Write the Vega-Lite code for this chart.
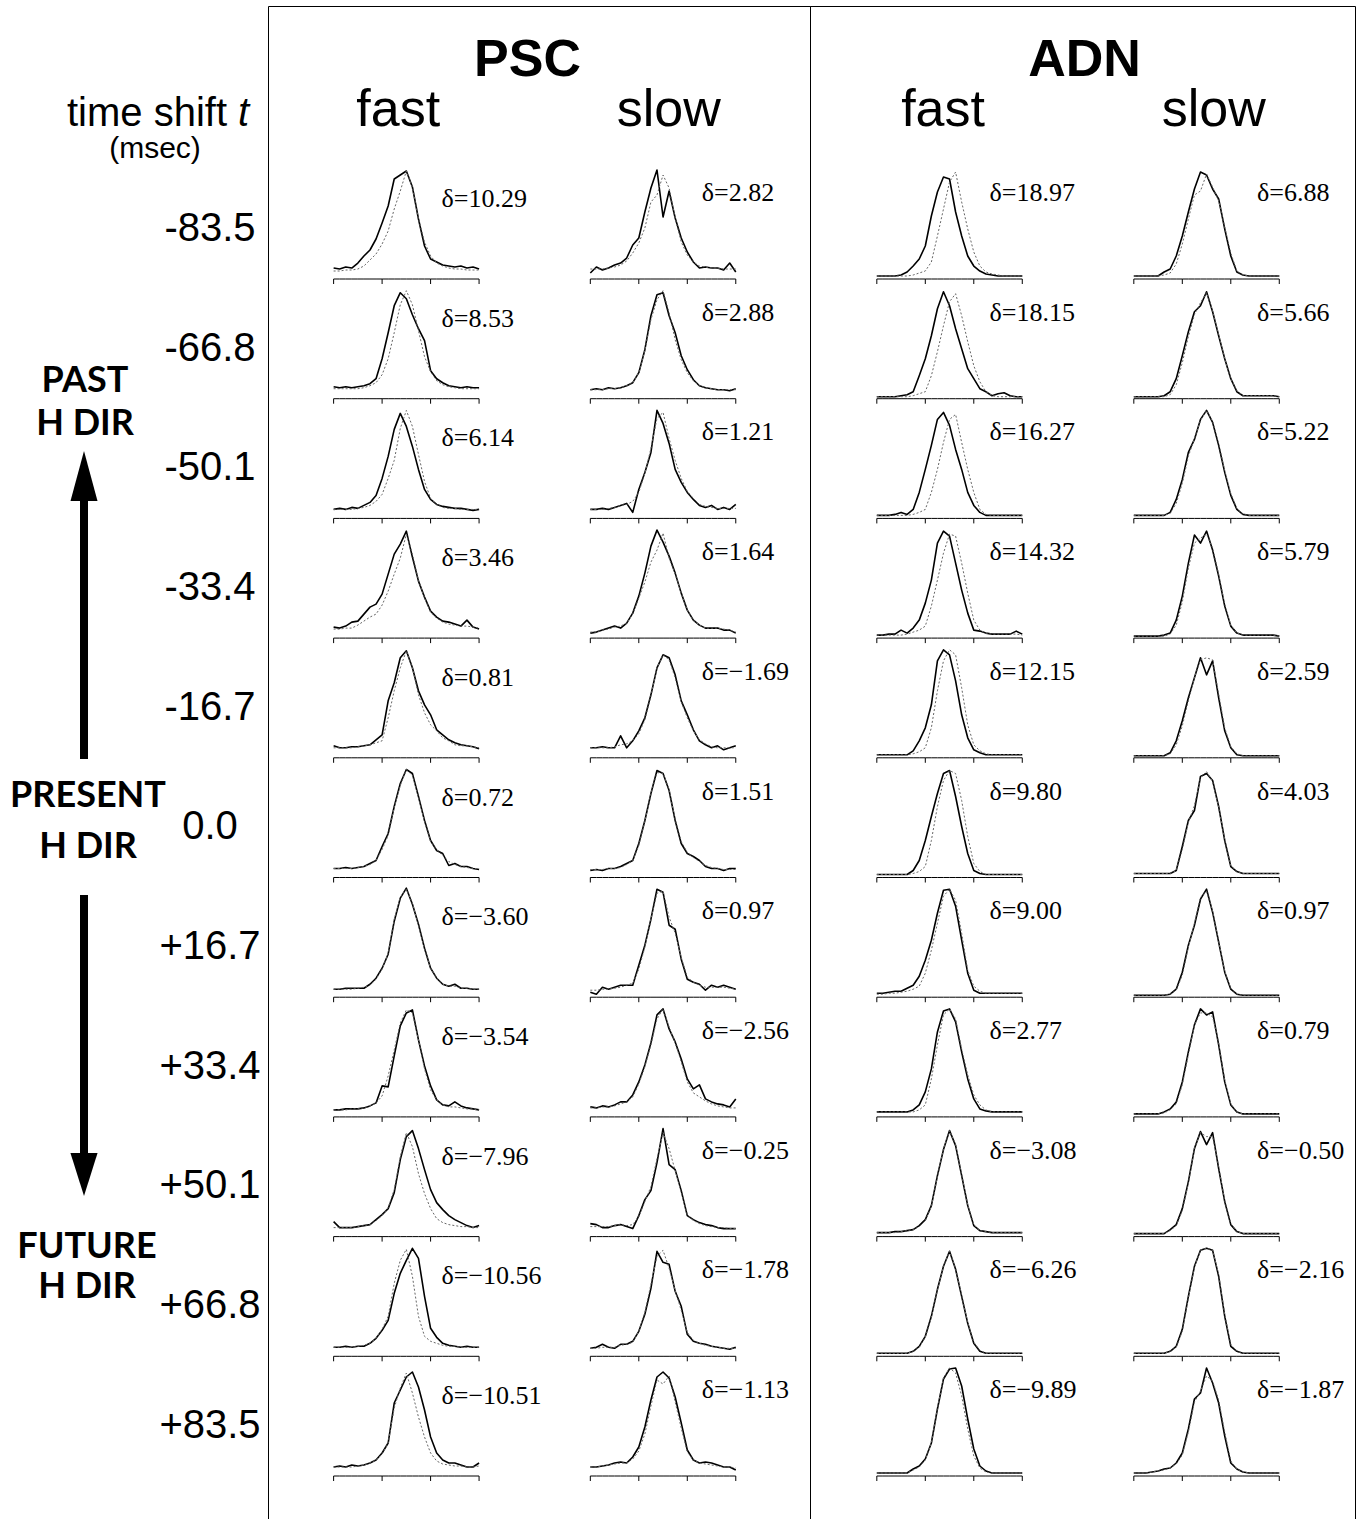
{
"$schema":"https://vega.github.io/schema/vega-lite/v6.json",
"background":"white",
"padding":{"left":0,"top":5,"right":5,"bottom":0},
"spacing":0,
"bounds":"flush",
"config":{"view":{"stroke":null},"font":"Liberation Sans"},
"datasets":{"curves":[
{"b":"PSC","sp":"fast","t":"-83.5","d":"δ=10.29","a":[-180,-165,-150,-135,-120,-105,-90,-75,-60,-45,-30,-15,0,15,30,45,60,75,90,105,120,135,150,165,180],"s":[11,10,12,11,16,23,29,40,56,73,100,104,108,92,60,33,20,17,14,13,12,13,11,12,10],"w":[8,8,9,9,10,13,19,25,35,48,70,88,108,92,60,37,23,16,13,11,10,10,9,9,9]},
{"b":"PSC","sp":"fast","t":"-66.8","d":"δ=8.53","a":[-180,-165,-150,-135,-120,-105,-90,-75,-60,-45,-30,-15,0,15,30,45,60,75,90,105,120,135,150,165,180],"s":[12,11,12,11,12,13,15,20,40,66,93,106,100,84,70,58,28,20,16,13,12,11,12,11,11],"w":[10,10,10,10,10,11,13,16,24,40,66,94,108,94,68,42,27,18,14,12,11,10,10,10,10]},
{"b":"PSC","sp":"fast","t":"-50.1","d":"δ=6.14","a":[-180,-165,-150,-135,-120,-105,-90,-75,-60,-45,-30,-15,0,15,30,45,60,75,90,105,120,135,150,165,180],"s":[9,10,9,11,10,13,16,23,40,62,89,105,92,72,49,29,19,14,12,11,10,10,9,8,9],"w":[9,9,9,9,10,11,13,17,24,40,58,90,108,92,64,37,20,14,11,10,10,9,9,9,9]},
{"b":"PSC","sp":"fast","t":"-33.4","d":"δ=3.46","a":[-180,-165,-150,-135,-120,-105,-90,-75,-60,-45,-30,-15,0,15,30,45,60,75,90,105,120,135,150,165,180],"s":[11,10,12,16,17,24,31,34,44,64,84,94,107,81,57,41,27,21,17,16,14,12,18,11,9],"w":[9,9,10,10,13,17,21,24,33,47,64,80,104,84,58,40,26,20,16,14,13,12,12,11,10]},
{"b":"PSC","sp":"fast","t":"-16.7","d":"δ=0.81","a":[-180,-165,-150,-135,-120,-105,-90,-75,-60,-45,-30,-15,0,15,30,45,60,75,90,105,120,135,150,165,180],"s":[12,10,10,11,11,12,13,18,23,57,75,100,107,90,67,53,43,28,23,18,15,13,12,11,9],"w":[10,10,10,10,11,12,13,15,17,40,67,90,107,90,63,45,33,27,20,17,13,12,12,11,10]},
{"b":"PSC","sp":"fast","t":"0.0","d":"δ=0.72","a":[-180,-165,-150,-135,-120,-105,-90,-75,-60,-45,-30,-15,0,15,30,45,60,75,90,105,120,135,150,165,180],"s":[9,9,10,9,10,11,14,17,31,44,71,94,108,104,81,57,37,27,24,12,14,11,11,9,8],"w":[9,9,9,9,10,11,13,17,28,42,70,92,108,102,80,56,36,28,22,16,13,11,10,9,9]},
{"b":"PSC","sp":"fast","t":"+16.7","d":"δ=−3.60","a":[-180,-165,-150,-135,-120,-105,-90,-75,-60,-45,-30,-15,0,15,30,45,60,75,90,105,120,135,150,165,180],"s":[8,8,9,9,9,9,13,19,29,43,76,99,109,93,73,49,29,19,13,11,13,9,9,8,8],"w":[8,8,8,8,9,10,12,18,28,44,78,100,108,94,72,48,29,19,13,11,11,9,9,8,8]},
{"b":"PSC","sp":"fast","t":"+33.4","d":"δ=−3.54","a":[-180,-165,-150,-135,-120,-105,-90,-75,-60,-45,-30,-15,0,15,30,45,60,75,90,105,120,135,150,165,180],"s":[7,7,8,8,8,9,11,14,31,30,61,91,104,107,77,51,31,17,12,11,15,11,9,8,7],"w":[7,7,7,8,8,9,11,14,21,41,67,94,107,104,77,48,27,17,12,10,10,9,8,8,7]},
{"b":"PSC","sp":"fast","t":"+50.1","d":"δ=−7.96","a":[-180,-165,-150,-135,-120,-105,-90,-75,-60,-45,-30,-15,0,15,30,45,60,75,90,105,120,135,150,165,180],"s":[15,9,9,9,10,11,12,17,22,28,44,77,100,106,88,67,47,34,27,21,17,14,11,9,11],"w":[9,9,9,9,10,11,12,16,21,29,47,80,104,90,63,43,28,18,14,12,11,10,10,9,9]},
{"b":"PSC","sp":"fast","t":"+66.8","d":"δ=−10.56","a":[-180,-165,-150,-135,-120,-105,-90,-75,-60,-45,-30,-15,0,15,30,45,60,75,90,105,120,135,150,165,180],"s":[9,9,10,9,10,10,13,18,26,36,63,83,96,108,98,60,28,19,13,11,10,9,10,9,9],"w":[9,9,9,9,10,11,13,18,27,40,73,96,107,80,40,20,15,13,11,10,10,9,9,9,9]},
{"b":"PSC","sp":"fast","t":"+83.5","d":"δ=−10.51","a":[-180,-165,-150,-135,-120,-105,-90,-75,-60,-45,-30,-15,0,15,30,45,60,75,90,105,120,135,150,165,180],"s":[9,10,9,11,10,11,13,16,23,33,73,86,99,104,89,66,39,23,16,13,13,11,9,9,13],"w":[9,9,9,9,10,11,13,16,22,33,68,88,103,83,59,39,23,15,12,11,10,10,9,9,10]},
{"b":"PSC","sp":"slow","t":"-83.5","d":"δ=2.82","a":[-180,-165,-150,-135,-120,-105,-90,-75,-60,-45,-30,-15,0,15,30,45,60,75,90,105,120,135,150,165,180],"s":[6,12,9,11,14,16,21,34,41,67,91,109,62,88,61,41,27,17,11,12,11,11,9,16,7],"w":[10,10,10,11,12,14,18,26,36,51,77,84,104,91,61,37,24,17,13,12,11,11,10,10,10]},
{"b":"PSC","sp":"slow","t":"-66.8","d":"δ=2.88","a":[-180,-165,-150,-135,-120,-105,-90,-75,-60,-45,-30,-15,0,15,30,45,60,75,90,105,120,135,150,165,180],"s":[9,10,9,11,10,11,13,16,26,49,83,104,106,83,66,43,29,19,13,11,10,9,9,8,10],"w":[9,9,9,10,10,11,13,16,26,48,79,99,108,86,59,39,26,18,13,11,10,9,9,9,9]},
{"b":"PSC","sp":"slow","t":"-50.1","d":"δ=1.21","a":[-180,-165,-150,-135,-120,-105,-90,-75,-60,-45,-30,-15,0,15,30,45,60,75,90,105,120,135,150,165,180],"s":[9,9,10,9,11,13,15,6,29,46,66,108,95,75,49,36,26,19,13,11,13,9,11,9,14],"w":[9,9,9,10,11,13,14,17,26,45,70,100,106,80,58,40,27,20,14,12,11,10,10,10,10]},
{"b":"PSC","sp":"slow","t":"-33.4","d":"δ=1.64","a":[-180,-165,-150,-135,-120,-105,-90,-75,-60,-45,-30,-15,0,15,30,45,60,75,90,105,120,135,150,165,180],"s":[5,6,8,10,12,10,15,25,42,65,92,108,96,82,65,45,28,18,13,10,10,10,8,8,5],"w":[6,6,8,9,11,12,15,24,40,56,76,88,105,80,64,45,28,18,13,10,10,10,9,8,6]},
{"b":"PSC","sp":"slow","t":"-16.7","d":"δ=−1.69","a":[-180,-165,-150,-135,-120,-105,-90,-75,-60,-45,-30,-15,0,15,30,45,60,75,90,105,120,135,150,165,180],"s":[10,10,11,10,10,22,10,17,27,40,63,90,103,100,83,57,43,28,17,13,10,12,8,10,12],"w":[10,10,10,10,11,13,14,17,24,38,62,90,103,98,80,56,40,27,18,14,11,10,10,10,10]},
{"b":"PSC","sp":"slow","t":"0.0","d":"δ=1.51","a":[-180,-165,-150,-135,-120,-105,-90,-75,-60,-45,-30,-15,0,15,30,45,60,75,90,105,120,135,150,165,180],"s":[7,8,7,9,9,11,14,17,34,57,84,107,104,87,57,34,24,21,17,11,9,9,7,9,9],"w":[8,8,8,9,9,10,13,17,32,56,84,105,104,88,58,36,25,20,16,12,10,9,8,8,8]},
{"b":"PSC","sp":"slow","t":"+16.7","d":"δ=0.97","a":[-180,-165,-150,-135,-120,-105,-90,-75,-60,-45,-30,-15,0,15,30,45,60,75,90,105,120,135,150,165,180],"s":[5,3,10,8,10,12,12,12,32,52,78,108,105,72,68,38,18,15,13,7,12,10,12,10,8],"w":[7,7,8,8,9,10,12,14,28,50,78,104,106,80,64,40,20,15,12,10,10,10,10,9,8]},
{"b":"PSC","sp":"slow","t":"+33.4","d":"δ=−2.56","a":[-180,-165,-150,-135,-120,-105,-90,-75,-60,-45,-30,-15,0,15,30,45,60,75,90,105,120,135,150,165,180],"s":[10,9,11,10,12,15,15,22,35,52,74,102,108,88,75,58,38,28,32,18,15,13,12,10,18],"w":[9,9,10,10,11,13,15,20,33,50,72,98,108,90,74,55,35,24,20,16,13,11,10,9,9]},
{"b":"PSC","sp":"slow","t":"+50.1","d":"δ=−0.25","a":[-180,-165,-150,-135,-120,-105,-90,-75,-60,-45,-30,-15,0,15,30,45,60,75,90,105,120,135,150,165,180],"s":[13,12,9,9,11,12,10,8,21,37,46,74,108,72,67,46,21,17,14,12,11,9,8,8,8],"w":[10,10,10,10,11,12,11,12,20,35,50,78,104,88,66,44,22,16,13,11,10,9,9,8,8]},
{"b":"PSC","sp":"slow","t":"+66.8","d":"δ=−1.78","a":[-180,-165,-150,-135,-120,-105,-90,-75,-60,-45,-30,-15,0,15,30,45,60,75,90,105,120,135,150,165,180],"s":[8,9,12,9,8,12,12,15,25,42,68,105,94,92,65,50,22,15,13,12,10,9,8,7,9],"w":[8,8,9,9,9,11,12,14,25,44,72,100,106,88,66,46,24,16,13,11,10,9,8,8,8]},
{"b":"PSC","sp":"slow","t":"+83.5","d":"δ=−1.13","a":[-180,-165,-150,-135,-120,-105,-90,-75,-60,-45,-30,-15,0,15,30,45,60,75,90,105,120,135,150,165,180],"s":[9,9,10,11,13,14,13,19,29,49,76,99,104,98,79,53,26,16,13,14,13,11,9,9,6],"w":[9,9,10,11,12,13,13,17,25,42,70,96,92,100,74,48,24,16,13,12,11,10,9,9,8]},
{"b":"ADN","sp":"fast","t":"-83.5","d":"δ=18.97","a":[-180,-165,-150,-135,-120,-105,-90,-75,-60,-45,-30,-15,0,15,30,45,60,75,90,105,120,135,150,165,180],"s":[3,3,3,3,4,7,13,20,33,63,87,102,100,67,43,23,13,8,5,4,3,3,3,3,3],"w":[3,3,3,3,3,3,4,6,8,17,43,70,97,107,77,50,27,13,7,5,4,3,3,3,3]},
{"b":"ADN","sp":"fast","t":"-66.8","d":"δ=18.15","a":[-180,-165,-150,-135,-120,-105,-90,-75,-60,-45,-30,-15,0,15,30,45,60,75,90,105,120,135,150,165,180],"s":[2,2,2,2,3,4,7,23,40,63,90,107,93,70,50,30,20,10,7,3,5,6,3,2,2],"w":[2,2,2,2,2,2,3,5,7,23,47,73,97,105,83,57,33,17,7,3,2,2,2,2,2]},
{"b":"ADN","sp":"fast","t":"-50.1","d":"δ=16.27","a":[-180,-165,-150,-135,-120,-105,-90,-75,-60,-45,-30,-15,0,15,30,45,60,75,90,105,120,135,150,165,180],"s":[3,3,3,4,6,4,9,26,49,73,99,106,93,69,49,26,13,6,3,3,3,3,3,3,3],"w":[3,3,3,3,3,3,4,6,9,26,49,76,99,104,76,49,26,9,4,3,3,3,3,3,3]},
{"b":"ADN","sp":"fast","t":"-33.4","d":"δ=14.32","a":[-180,-165,-150,-135,-120,-105,-90,-75,-60,-45,-30,-15,0,15,30,45,60,75,90,105,120,135,150,165,180],"s":[3,3,4,4,8,5,10,18,35,58,95,107,102,75,48,25,8,7,5,4,4,4,4,7,4],"w":[3,3,3,3,3,4,6,8,12,32,58,85,104,102,75,45,18,8,5,4,4,4,4,4,3]},
{"b":"ADN","sp":"fast","t":"-16.7","d":"δ=12.15","a":[-180,-165,-150,-135,-120,-105,-90,-75,-60,-45,-30,-15,0,15,30,45,60,75,90,105,120,135,150,165,180],"s":[3,3,3,3,3,3,7,17,30,53,97,108,103,77,43,20,8,5,3,3,3,3,3,3,3],"w":[3,3,3,3,3,3,4,6,10,30,67,97,108,103,70,33,13,7,4,3,3,3,3,3,3]},
{"b":"ADN","sp":"fast","t":"0.0","d":"δ=9.80","a":[-180,-165,-150,-135,-120,-105,-90,-75,-60,-45,-30,-15,0,15,30,45,60,75,90,105,120,135,150,165,180],"s":[3,3,3,3,3,3,7,17,37,61,84,104,107,81,51,24,7,4,3,3,3,3,3,3,3],"w":[3,3,3,3,3,3,4,6,11,37,71,97,107,104,77,41,14,6,3,3,3,3,3,3,3]},
{"b":"ADN","sp":"fast","t":"+16.7","d":"δ=9.00","a":[-180,-165,-150,-135,-120,-105,-90,-75,-60,-45,-30,-15,0,15,30,45,60,75,90,105,120,135,150,165,180],"s":[4,4,5,6,6,9,12,21,37,57,84,107,108,91,57,24,7,4,4,4,4,4,4,4,4],"w":[3,3,4,4,5,6,8,11,24,47,74,101,108,97,64,27,11,6,4,4,4,4,4,4,4]},
{"b":"ADN","sp":"fast","t":"+33.4","d":"δ=2.77","a":[-180,-165,-150,-135,-120,-105,-90,-75,-60,-45,-30,-15,0,15,30,45,60,75,90,105,120,135,150,165,180],"s":[5,5,5,5,5,5,7,12,25,48,85,106,108,95,65,38,18,8,6,5,5,5,5,5,5],"w":[5,5,5,5,5,5,5,7,12,38,72,102,108,98,68,42,22,12,7,5,5,5,5,5,5]},
{"b":"ADN","sp":"fast","t":"+50.1","d":"δ=−3.08","a":[-180,-165,-150,-135,-120,-105,-90,-75,-60,-45,-30,-15,0,15,30,45,60,75,90,105,120,135,150,165,180],"s":[4,4,4,5,5,6,7,11,17,31,61,87,106,91,61,31,11,6,5,4,4,4,4,4,4],"w":[4,4,4,4,5,6,7,10,16,30,60,88,106,92,62,32,12,6,5,4,4,4,4,4,4]},
{"b":"ADN","sp":"fast","t":"+66.8","d":"δ=−6.26","a":[-180,-165,-150,-135,-120,-105,-90,-75,-60,-45,-30,-15,0,15,30,45,60,75,90,105,120,135,150,165,180],"s":[3,3,3,3,3,3,5,10,20,40,67,90,105,87,60,33,13,5,3,3,3,3,3,3,3],"w":[3,3,3,3,3,3,5,9,19,39,66,90,105,88,61,34,14,6,3,3,3,3,3,3,3]},
{"b":"ADN","sp":"fast","t":"+83.5","d":"δ=−9.89","a":[-180,-165,-150,-135,-120,-105,-90,-75,-60,-45,-30,-15,0,15,30,45,60,75,90,105,120,135,150,165,180],"s":[3,3,3,3,3,3,7,10,17,33,67,97,107,108,90,57,27,10,5,3,3,3,3,3,3],"w":[3,3,3,3,3,3,6,9,16,33,68,98,108,103,80,47,20,8,4,3,3,3,3,3,3]},
{"b":"ADN","sp":"slow","t":"-83.5","d":"δ=6.88","a":[-180,-165,-150,-135,-120,-105,-90,-75,-60,-45,-30,-15,0,15,30,45,60,75,90,105,120,135,150,165,180],"s":[3,3,3,3,3,7,10,23,43,67,90,107,104,90,80,50,23,7,4,3,3,3,3,3,3],"w":[3,3,3,3,3,4,6,15,35,60,84,88,105,92,78,52,26,8,4,3,3,3,3,3,3]},
{"b":"ADN","sp":"slow","t":"-66.8","d":"δ=5.66","a":[-180,-165,-150,-135,-120,-105,-90,-75,-60,-45,-30,-15,0,15,30,45,60,75,90,105,120,135,150,165,180],"s":[2,2,2,2,2,3,7,20,43,67,87,93,107,87,63,40,20,7,3,3,3,3,3,3,2],"w":[2,2,2,2,2,2,4,14,36,62,84,96,106,88,64,40,20,8,3,3,3,3,3,3,2]},
{"b":"ADN","sp":"slow","t":"-50.1","d":"δ=5.22","a":[-180,-165,-150,-135,-120,-105,-90,-75,-60,-45,-30,-15,0,15,30,45,60,75,90,105,120,135,150,165,180],"s":[3,3,3,3,3,3,6,19,39,66,79,99,108,96,73,46,23,9,4,3,3,3,3,3,3],"w":[3,3,3,3,3,3,5,15,35,62,80,98,108,97,75,48,25,10,4,3,3,3,3,3,3]},
{"b":"ADN","sp":"slow","t":"-33.4","d":"δ=5.79","a":[-180,-165,-150,-135,-120,-105,-90,-75,-60,-45,-30,-15,0,15,30,45,60,75,90,105,120,135,150,165,180],"s":[2,2,2,2,2,3,5,18,42,75,103,95,107,88,62,32,12,5,3,3,3,3,3,3,2],"w":[2,2,2,2,2,2,4,13,36,70,95,100,104,90,64,34,13,5,3,3,3,3,3,3,2]},
{"b":"ADN","sp":"slow","t":"-16.7","d":"δ=2.59","a":[-180,-165,-150,-135,-120,-105,-90,-75,-60,-45,-30,-15,0,15,30,45,60,75,90,105,120,135,150,165,180],"s":[2,2,2,2,2,2,5,17,37,60,80,100,83,97,60,27,10,3,2,2,2,2,2,2,2],"w":[2,2,2,2,2,2,4,13,32,57,80,98,100,98,64,30,11,4,2,2,2,2,2,2,2]},
{"b":"ADN","sp":"slow","t":"0.0","d":"δ=4.03","a":[-180,-165,-150,-135,-120,-105,-90,-75,-60,-45,-30,-15,0,15,30,45,60,75,90,105,120,135,150,165,180],"s":[4,4,4,4,4,4,4,7,31,57,67,101,104,97,71,37,11,6,4,4,4,4,4,4,4],"w":[4,4,4,4,4,4,4,7,28,55,72,100,106,96,70,38,12,6,4,4,4,4,4,4,4]},
{"b":"ADN","sp":"slow","t":"+16.7","d":"δ=0.97","a":[-180,-165,-150,-135,-120,-105,-90,-75,-60,-45,-30,-15,0,15,30,45,60,75,90,105,120,135,150,165,180],"s":[2,2,2,2,2,2,3,8,25,52,72,98,108,85,55,25,8,3,2,2,2,2,2,2,2],"w":[2,2,2,2,2,2,3,7,22,50,74,100,106,86,56,26,9,3,2,2,2,2,2,2,2]},
{"b":"ADN","sp":"slow","t":"+33.4","d":"δ=0.79","a":[-180,-165,-150,-135,-120,-105,-90,-75,-60,-45,-30,-15,0,15,30,45,60,75,90,105,120,135,150,165,180],"s":[3,3,3,3,3,5,8,15,35,65,92,108,102,105,72,35,12,5,3,3,3,3,3,3,3],"w":[3,3,3,3,3,4,7,13,32,62,92,104,104,100,74,37,13,5,3,3,3,3,3,3,3]},
{"b":"ADN","sp":"slow","t":"+50.1","d":"δ=−0.50","a":[-180,-165,-150,-135,-120,-105,-90,-75,-60,-45,-30,-15,0,15,30,45,60,75,90,105,120,135,150,165,180],"s":[3,3,3,3,3,3,7,12,28,55,88,105,92,104,68,35,12,5,3,3,3,3,3,3,3],"w":[3,3,3,3,3,3,6,11,26,53,88,104,100,100,70,36,13,5,3,3,3,3,3,3,3]},
{"b":"ADN","sp":"slow","t":"+66.8","d":"δ=−2.16","a":[-180,-165,-150,-135,-120,-105,-90,-75,-60,-45,-30,-15,0,15,30,45,60,75,90,105,120,135,150,165,180],"s":[3,3,3,3,3,3,5,10,27,60,90,106,108,106,80,40,10,5,3,3,3,3,3,3,3],"w":[3,3,3,3,3,3,5,9,25,58,89,106,108,106,82,42,12,5,3,3,3,3,3,3,3]},
{"b":"ADN","sp":"slow","t":"+83.5","d":"δ=−1.87","a":[-180,-165,-150,-135,-120,-105,-90,-75,-60,-45,-30,-15,0,15,30,45,60,75,90,105,120,135,150,165,180],"s":[3,3,3,4,5,7,8,13,23,47,77,83,108,93,73,40,13,7,4,3,3,3,3,3,3],"w":[3,3,3,4,5,6,8,12,21,44,74,85,100,95,76,44,15,7,4,3,3,3,3,3,3]}
]},
"hconcat":[
{
"width":268,"height":1516,
"layer":[
{"data":{"values":[{"tv":-83.5,"lab":"-83.5"},{"tv":-66.8,"lab":"-66.8"},{"tv":-50.1,"lab":"-50.1"},{"tv":-33.4,"lab":"-33.4"},{"tv":-16.7,"lab":"-16.7"},{"tv":0,"lab":"0.0"},{"tv":16.7,"lab":"+16.7"},{"tv":33.4,"lab":"+33.4"},{"tv":50.1,"lab":"+50.1"},{"tv":66.8,"lab":"+66.8"},{"tv":83.5,"lab":"+83.5"}]},
 "mark":{"type":"text","font":"Liberation Sans","fontSize":40,"align":"center","baseline":"middle","color":"black"},
 "encoding":{"x":{"datum":"time","type":"nominal","scale":{"type":"band","domain":["dir","time"],"range":[21,273],"paddingInner":0,"paddingOuter":0},"axis":null},
  "y":{"field":"tv","type":"quantitative","scale":{"domain":[-114.59,96.91],"reverse":true,"nice":false,"zero":false},"axis":null},
  "text":{"field":"lab"}}},
{"data":{"values":[{}]},
 "mark":{"type":"text","text":"time shift","font":"Liberation Sans","fontSize":40,"align":"left","baseline":"alphabetic","dx":-143,"color":"black"},
 "encoding":{"x":{"datum":"time","type":"nominal","scale":{"type":"band","domain":["dir","time"],"range":[21,273],"paddingInner":0,"paddingOuter":0},"axis":null},
  "y":{"datum":-97.85,"type":"quantitative","scale":{"domain":[-114.59,96.91],"reverse":true,"nice":false,"zero":false},"axis":null}}},
{"data":{"values":[{}]},
 "mark":{"type":"text","text":"t","font":"Liberation Sans","fontStyle":"italic","fontSize":40,"align":"left","baseline":"alphabetic","dx":28,"color":"black"},
 "encoding":{"x":{"datum":"time","type":"nominal","scale":{"type":"band","domain":["dir","time"],"range":[21,273],"paddingInner":0,"paddingOuter":0},"axis":null},
  "y":{"datum":-97.85,"type":"quantitative","scale":{"domain":[-114.59,96.91],"reverse":true,"nice":false,"zero":false},"axis":null}}},
{"data":{"values":[{}]},
 "mark":{"type":"text","text":"(msec)","font":"Liberation Sans","fontSize":30,"align":"center","baseline":"alphabetic","dx":-55,"color":"black"},
 "encoding":{"x":{"datum":"time","type":"nominal","scale":{"type":"band","domain":["dir","time"],"range":[21,273],"paddingInner":0,"paddingOuter":0},"axis":null},
  "y":{"datum":-93.38,"type":"quantitative","scale":{"domain":[-114.59,96.91],"reverse":true,"nice":false,"zero":false},"axis":null}}},
{"data":{"values":[{}]},
 "mark":{"type":"text","text":["PAST","H DIR"],"lineHeight":43,"font":"Lato","fontWeight":"bold","fontSize":36,"align":"center","baseline":"alphabetic","dx":1,"color":"black"},
 "encoding":{"x":{"datum":"dir","type":"nominal","scale":{"type":"band","domain":["dir","time"],"range":[21,273],"paddingInner":0,"paddingOuter":0},"axis":null},
  "y":{"datum":-60.74,"type":"quantitative","scale":{"domain":[-114.59,96.91],"reverse":true,"nice":false,"zero":false},"axis":null}}},
{"data":{"values":[{}]},
 "mark":{"type":"text","text":["PRESENT","H DIR"],"lineHeight":51,"font":"Lato","fontWeight":"bold","fontSize":36,"align":"center","baseline":"alphabetic","dx":4,"color":"black"},
 "encoding":{"x":{"datum":"dir","type":"nominal","scale":{"type":"band","domain":["dir","time"],"range":[21,273],"paddingInner":0,"paddingOuter":0},"axis":null},
  "y":{"datum":-2.84,"type":"quantitative","scale":{"domain":[-114.59,96.91],"reverse":true,"nice":false,"zero":false},"axis":null}}},
{"data":{"values":[{}]},
 "mark":{"type":"text","text":["FUTURE","H DIR"],"lineHeight":40,"font":"Lato","fontWeight":"bold","fontSize":36,"align":"center","baseline":"alphabetic","dx":3,"color":"black"},
 "encoding":{"x":{"datum":"dir","type":"nominal","scale":{"type":"band","domain":["dir","time"],"range":[21,273],"paddingInner":0,"paddingOuter":0},"axis":null},
  "y":{"datum":60.09,"type":"quantitative","scale":{"domain":[-114.59,96.91],"reverse":true,"nice":false,"zero":false},"axis":null}}},
{"data":{"values":[{}]},
 "mark":{"type":"rule","strokeWidth":8,"color":"black"},
 "encoding":{"x":{"datum":"dir","type":"nominal","scale":{"type":"band","domain":["dir","time"],"range":[21,273],"paddingInner":0,"paddingOuter":0},"axis":null},
  "y":{"datum":-47,"type":"quantitative","scale":{"domain":[-114.59,96.91],"reverse":true,"nice":false,"zero":false},"axis":null},
  "y2":{"datum":-9.54}}},
{"data":{"values":[{}]},
 "mark":{"type":"rule","strokeWidth":8,"color":"black"},
 "encoding":{"x":{"datum":"dir","type":"nominal","scale":{"type":"band","domain":["dir","time"],"range":[21,273],"paddingInner":0,"paddingOuter":0},"axis":null},
  "y":{"datum":9.44,"type":"quantitative","scale":{"domain":[-114.59,96.91],"reverse":true,"nice":false,"zero":false},"axis":null},
  "y2":{"datum":47}}},
{"data":{"values":[{}]},
 "mark":{"type":"point","shape":"M0,-1L0.54,1L-0.54,1Z","size":2500,"filled":true,"color":"black","opacity":1,"strokeWidth":0},
 "encoding":{"x":{"datum":"dir","type":"nominal","scale":{"type":"band","domain":["dir","time"],"range":[21,273],"paddingInner":0,"paddingOuter":0},"axis":null},
  "y":{"datum":-49.02,"type":"quantitative","scale":{"domain":[-114.59,96.91],"reverse":true,"nice":false,"zero":false},"axis":null}}},
{"data":{"values":[{}]},
 "mark":{"type":"point","shape":"M0,1L0.63,-1L-0.63,-1Z","size":1849,"filled":true,"color":"black","opacity":1,"strokeWidth":0},
 "encoding":{"x":{"datum":"dir","type":"nominal","scale":{"type":"band","domain":["dir","time"],"range":[21,273],"paddingInner":0,"paddingOuter":0},"axis":null},
  "y":{"datum":48.43,"type":"quantitative","scale":{"domain":[-114.59,96.91],"reverse":true,"nice":false,"zero":false},"axis":null}}}
]
},
{
"width":542,"height":1516,
"view":{"stroke":"black","strokeWidth":1},
"layer":[
{"data":{"name":"curves"},
 "transform":[{"filter":"datum.b === 'PSC'"},{"flatten":["a","s","w"]}],
 "layer":[
  {"mark":{"type":"line","color":"black","strokeWidth":1.6,"strokeJoin":"round"},
   "encoding":{
    "x":{"field":"sp","type":"nominal","scale":{"type":"band","domain":["fast","slow"],"paddingInner":0,"paddingOuter":0.0557},"axis":null},
    "xOffset":{"field":"a","type":"quantitative","scale":{"domain":[-307,301],"nice":false,"zero":false}},
    "y":{"field":"t","type":"nominal","scale":{"type":"band","domain":["-83.5","-66.8","-50.1","-33.4","-16.7","0.0","+16.7","+33.4","+50.1","+66.8","+83.5"],"paddingInner":0,"paddingOuter":0.8325,"align":0.8179},"axis":null},
    "yOffset":{"field":"s","type":"quantitative","scale":{"domain":[-9.7,110],"reverse":true,"nice":false,"zero":false}},
    "detail":[{"field":"t","type":"nominal"},{"field":"sp","type":"nominal"}],
    "order":{"field":"a","type":"quantitative"}}},
  {"mark":{"type":"line","color":"#666666","strokeWidth":1,"strokeDash":[2,2]},
   "encoding":{
    "x":{"field":"sp","type":"nominal","scale":{"type":"band","domain":["fast","slow"],"paddingInner":0,"paddingOuter":0.0557},"axis":null},
    "xOffset":{"field":"a","type":"quantitative","scale":{"domain":[-307,301],"nice":false,"zero":false}},
    "y":{"field":"t","type":"nominal","scale":{"type":"band","domain":["-83.5","-66.8","-50.1","-33.4","-16.7","0.0","+16.7","+33.4","+50.1","+66.8","+83.5"],"paddingInner":0,"paddingOuter":0.8325,"align":0.8179},"axis":null},
    "yOffset":{"field":"w","type":"quantitative","scale":{"domain":[-9.7,110],"reverse":true,"nice":false,"zero":false}},
    "detail":[{"field":"t","type":"nominal"},{"field":"sp","type":"nominal"}],
    "order":{"field":"a","type":"quantitative"}}},
  {"mark":{"type":"line","color":"black","strokeWidth":1},
   "encoding":{
    "x":{"field":"sp","type":"nominal","scale":{"type":"band","domain":["fast","slow"],"paddingInner":0,"paddingOuter":0.0557},"axis":null},
    "xOffset":{"field":"a","type":"quantitative","scale":{"domain":[-307,301],"nice":false,"zero":false}},
    "y":{"field":"t","type":"nominal","scale":{"type":"band","domain":["-83.5","-66.8","-50.1","-33.4","-16.7","0.0","+16.7","+33.4","+50.1","+66.8","+83.5"],"paddingInner":0,"paddingOuter":0.8325,"align":0.8179},"axis":null},
    "yOffset":{"datum":0,"type":"quantitative","scale":{"domain":[-9.7,110],"reverse":true,"nice":false,"zero":false}},
    "detail":[{"field":"t","type":"nominal"},{"field":"sp","type":"nominal"}],
    "order":{"field":"a","type":"quantitative"}}},
  {"transform":[{"filter":"datum.a === -180 || datum.a === -60 || datum.a === 60 || datum.a === 180"}],
   "mark":{"type":"point","shape":"M0,0L0,2","size":25,"filled":false,"color":"black","strokeWidth":1,"opacity":1},
   "encoding":{
    "x":{"field":"sp","type":"nominal","scale":{"type":"band","domain":["fast","slow"],"paddingInner":0,"paddingOuter":0.0557},"axis":null},
    "xOffset":{"field":"a","type":"quantitative","scale":{"domain":[-307,301],"nice":false,"zero":false}},
    "y":{"field":"t","type":"nominal","scale":{"type":"band","domain":["-83.5","-66.8","-50.1","-33.4","-16.7","0.0","+16.7","+33.4","+50.1","+66.8","+83.5"],"paddingInner":0,"paddingOuter":0.8325,"align":0.8179},"axis":null},
    "yOffset":{"datum":0,"type":"quantitative","scale":{"domain":[-9.7,110],"reverse":true,"nice":false,"zero":false}}}},
  {"transform":[{"filter":"datum.a === 0 && datum.sp === 'fast'"}],
   "mark":{"type":"text","font":"Liberation Serif","fontSize":26,"align":"left","baseline":"alphabetic","color":"black"},
   "encoding":{
    "x":{"field":"sp","type":"nominal","scale":{"type":"band","domain":["fast","slow"],"paddingInner":0,"paddingOuter":0.0557},"axis":null},
    "xOffset":{"datum":87,"type":"quantitative","scale":{"domain":[-307,301],"nice":false,"zero":false}},
    "y":{"field":"t","type":"nominal","scale":{"type":"band","domain":["-83.5","-66.8","-50.1","-33.4","-16.7","0.0","+16.7","+33.4","+50.1","+66.8","+83.5"],"paddingInner":0,"paddingOuter":0.8325,"align":0.8179},"axis":null},
    "yOffset":{"datum":72,"type":"quantitative","scale":{"domain":[-9.7,110],"reverse":true,"nice":false,"zero":false}},
    "text":{"field":"d"}}},
  {"transform":[{"filter":"datum.a === 0 && datum.sp === 'slow'"}],
   "mark":{"type":"text","font":"Liberation Serif","fontSize":26,"align":"left","baseline":"alphabetic","color":"black"},
   "encoding":{
    "x":{"field":"sp","type":"nominal","scale":{"type":"band","domain":["fast","slow"],"paddingInner":0,"paddingOuter":0.0557},"axis":null},
    "xOffset":{"datum":96,"type":"quantitative","scale":{"domain":[-307,301],"nice":false,"zero":false}},
    "y":{"field":"t","type":"nominal","scale":{"type":"band","domain":["-83.5","-66.8","-50.1","-33.4","-16.7","0.0","+16.7","+33.4","+50.1","+66.8","+83.5"],"paddingInner":0,"paddingOuter":0.8325,"align":0.8179},"axis":null},
    "yOffset":{"datum":78,"type":"quantitative","scale":{"domain":[-9.7,110],"reverse":true,"nice":false,"zero":false}},
    "text":{"field":"d"}}}
 ]},
{"data":{"values":[{}]},
 "mark":{"type":"text","text":"PSC","font":"Liberation Sans","fontWeight":"bold","fontSize":52,"align":"center","baseline":"alphabetic","color":"black"},
 "encoding":{
  "x":{"datum":"fast","type":"nominal","scale":{"type":"band","domain":["fast","slow"],"paddingInner":0,"paddingOuter":0.0557},"axis":null},
  "xOffset":{"datum":300,"type":"quantitative","scale":{"domain":[-307,301],"nice":false,"zero":false}},
  "y":{"datum":"-83.5","type":"nominal","scale":{"type":"band","domain":["-83.5","-66.8","-50.1","-33.4","-16.7","0.0","+16.7","+33.4","+50.1","+66.8","+83.5"],"paddingInner":0,"paddingOuter":0.8325,"align":0.8179},"axis":null},
  "yOffset":{"datum":203,"type":"quantitative","scale":{"domain":[-9.7,110],"reverse":true,"nice":false,"zero":false}}}},
{"data":{"values":[{}]},
 "mark":{"type":"text","text":"fast","font":"Liberation Sans","fontSize":52,"align":"center","baseline":"alphabetic","color":"black"},
 "encoding":{
  "x":{"datum":"fast","type":"nominal","scale":{"type":"band","domain":["fast","slow"],"paddingInner":0,"paddingOuter":0.0557},"axis":null},
  "xOffset":{"datum":-20,"type":"quantitative","scale":{"domain":[-307,301],"nice":false,"zero":false}},
  "y":{"datum":"-83.5","type":"nominal","scale":{"type":"band","domain":["-83.5","-66.8","-50.1","-33.4","-16.7","0.0","+16.7","+33.4","+50.1","+66.8","+83.5"],"paddingInner":0,"paddingOuter":0.8325,"align":0.8179},"axis":null},
  "yOffset":{"datum":153,"type":"quantitative","scale":{"domain":[-9.7,110],"reverse":true,"nice":false,"zero":false}}}},
{"data":{"values":[{}]},
 "mark":{"type":"text","text":"slow","font":"Liberation Sans","fontSize":52,"align":"center","baseline":"alphabetic","color":"black"},
 "encoding":{
  "x":{"datum":"slow","type":"nominal","scale":{"type":"band","domain":["fast","slow"],"paddingInner":0,"paddingOuter":0.0557},"axis":null},
  "xOffset":{"datum":14,"type":"quantitative","scale":{"domain":[-307,301],"nice":false,"zero":false}},
  "y":{"datum":"-83.5","type":"nominal","scale":{"type":"band","domain":["-83.5","-66.8","-50.1","-33.4","-16.7","0.0","+16.7","+33.4","+50.1","+66.8","+83.5"],"paddingInner":0,"paddingOuter":0.8325,"align":0.8179},"axis":null},
  "yOffset":{"datum":153,"type":"quantitative","scale":{"domain":[-9.7,110],"reverse":true,"nice":false,"zero":false}}}}
]
},
{
"width":545,"height":1516,
"view":{"stroke":"black","strokeWidth":1},
"layer":[
{"data":{"name":"curves"},
 "transform":[{"filter":"datum.b === 'ADN'"},{"flatten":["a","s","w"]}],
 "layer":[
  {"mark":{"type":"line","color":"black","strokeWidth":1.6,"strokeJoin":"round"},
   "encoding":{
    "x":{"field":"sp","type":"nominal","scale":{"type":"band","domain":["fast","slow"],"paddingInner":0,"paddingOuter":0.0603},"axis":null},
    "xOffset":{"field":"a","type":"quantitative","scale":{"domain":[-280.4,328.3],"nice":false,"zero":false}},
    "y":{"field":"t","type":"nominal","scale":{"type":"band","domain":["-83.5","-66.8","-50.1","-33.4","-16.7","0.0","+16.7","+33.4","+50.1","+66.8","+83.5"],"paddingInner":0,"paddingOuter":0.8325,"align":0.8179},"axis":null},
    "yOffset":{"field":"s","type":"quantitative","scale":{"domain":[-9.7,110],"reverse":true,"nice":false,"zero":false}},
    "detail":[{"field":"t","type":"nominal"},{"field":"sp","type":"nominal"}],
    "order":{"field":"a","type":"quantitative"}}},
  {"mark":{"type":"line","color":"#666666","strokeWidth":1,"strokeDash":[2,2]},
   "encoding":{
    "x":{"field":"sp","type":"nominal","scale":{"type":"band","domain":["fast","slow"],"paddingInner":0,"paddingOuter":0.0603},"axis":null},
    "xOffset":{"field":"a","type":"quantitative","scale":{"domain":[-280.4,328.3],"nice":false,"zero":false}},
    "y":{"field":"t","type":"nominal","scale":{"type":"band","domain":["-83.5","-66.8","-50.1","-33.4","-16.7","0.0","+16.7","+33.4","+50.1","+66.8","+83.5"],"paddingInner":0,"paddingOuter":0.8325,"align":0.8179},"axis":null},
    "yOffset":{"field":"w","type":"quantitative","scale":{"domain":[-9.7,110],"reverse":true,"nice":false,"zero":false}},
    "detail":[{"field":"t","type":"nominal"},{"field":"sp","type":"nominal"}],
    "order":{"field":"a","type":"quantitative"}}},
  {"mark":{"type":"line","color":"black","strokeWidth":1},
   "encoding":{
    "x":{"field":"sp","type":"nominal","scale":{"type":"band","domain":["fast","slow"],"paddingInner":0,"paddingOuter":0.0603},"axis":null},
    "xOffset":{"field":"a","type":"quantitative","scale":{"domain":[-280.4,328.3],"nice":false,"zero":false}},
    "y":{"field":"t","type":"nominal","scale":{"type":"band","domain":["-83.5","-66.8","-50.1","-33.4","-16.7","0.0","+16.7","+33.4","+50.1","+66.8","+83.5"],"paddingInner":0,"paddingOuter":0.8325,"align":0.8179},"axis":null},
    "yOffset":{"datum":0,"type":"quantitative","scale":{"domain":[-9.7,110],"reverse":true,"nice":false,"zero":false}},
    "detail":[{"field":"t","type":"nominal"},{"field":"sp","type":"nominal"}],
    "order":{"field":"a","type":"quantitative"}}},
  {"transform":[{"filter":"datum.a === -180 || datum.a === -60 || datum.a === 60 || datum.a === 180"}],
   "mark":{"type":"point","shape":"M0,0L0,2","size":25,"filled":false,"color":"black","strokeWidth":1,"opacity":1},
   "encoding":{
    "x":{"field":"sp","type":"nominal","scale":{"type":"band","domain":["fast","slow"],"paddingInner":0,"paddingOuter":0.0603},"axis":null},
    "xOffset":{"field":"a","type":"quantitative","scale":{"domain":[-280.4,328.3],"nice":false,"zero":false}},
    "y":{"field":"t","type":"nominal","scale":{"type":"band","domain":["-83.5","-66.8","-50.1","-33.4","-16.7","0.0","+16.7","+33.4","+50.1","+66.8","+83.5"],"paddingInner":0,"paddingOuter":0.8325,"align":0.8179},"axis":null},
    "yOffset":{"datum":0,"type":"quantitative","scale":{"domain":[-9.7,110],"reverse":true,"nice":false,"zero":false}}}},
  {"transform":[{"filter":"datum.a === 0 && datum.sp === 'fast'"}],
   "mark":{"type":"text","font":"Liberation Serif","fontSize":26,"align":"left","baseline":"alphabetic","color":"black"},
   "encoding":{
    "x":{"field":"sp","type":"nominal","scale":{"type":"band","domain":["fast","slow"],"paddingInner":0,"paddingOuter":0.0603},"axis":null},
    "xOffset":{"datum":99,"type":"quantitative","scale":{"domain":[-280.4,328.3],"nice":false,"zero":false}},
    "y":{"field":"t","type":"nominal","scale":{"type":"band","domain":["-83.5","-66.8","-50.1","-33.4","-16.7","0.0","+16.7","+33.4","+50.1","+66.8","+83.5"],"paddingInner":0,"paddingOuter":0.8325,"align":0.8179},"axis":null},
    "yOffset":{"datum":78,"type":"quantitative","scale":{"domain":[-9.7,110],"reverse":true,"nice":false,"zero":false}},
    "text":{"field":"d"}}},
  {"transform":[{"filter":"datum.a === 0 && datum.sp === 'slow'"}],
   "mark":{"type":"text","font":"Liberation Serif","fontSize":26,"align":"left","baseline":"alphabetic","color":"black"},
   "encoding":{
    "x":{"field":"sp","type":"nominal","scale":{"type":"band","domain":["fast","slow"],"paddingInner":0,"paddingOuter":0.0603},"axis":null},
    "xOffset":{"datum":125,"type":"quantitative","scale":{"domain":[-280.4,328.3],"nice":false,"zero":false}},
    "y":{"field":"t","type":"nominal","scale":{"type":"band","domain":["-83.5","-66.8","-50.1","-33.4","-16.7","0.0","+16.7","+33.4","+50.1","+66.8","+83.5"],"paddingInner":0,"paddingOuter":0.8325,"align":0.8179},"axis":null},
    "yOffset":{"datum":78,"type":"quantitative","scale":{"domain":[-9.7,110],"reverse":true,"nice":false,"zero":false}},
    "text":{"field":"d"}}}
 ]},
{"data":{"values":[{}]},
 "mark":{"type":"text","text":"ADN","font":"Liberation Sans","fontWeight":"bold","fontSize":52,"align":"center","baseline":"alphabetic","color":"black"},
 "encoding":{
  "x":{"datum":"fast","type":"nominal","scale":{"type":"band","domain":["fast","slow"],"paddingInner":0,"paddingOuter":0.0603},"axis":null},
  "xOffset":{"datum":334,"type":"quantitative","scale":{"domain":[-280.4,328.3],"nice":false,"zero":false}},
  "y":{"datum":"-83.5","type":"nominal","scale":{"type":"band","domain":["-83.5","-66.8","-50.1","-33.4","-16.7","0.0","+16.7","+33.4","+50.1","+66.8","+83.5"],"paddingInner":0,"paddingOuter":0.8325,"align":0.8179},"axis":null},
  "yOffset":{"datum":203,"type":"quantitative","scale":{"domain":[-9.7,110],"reverse":true,"nice":false,"zero":false}}}},
{"data":{"values":[{}]},
 "mark":{"type":"text","text":"fast","font":"Liberation Sans","fontSize":52,"align":"center","baseline":"alphabetic","color":"black"},
 "encoding":{
  "x":{"datum":"fast","type":"nominal","scale":{"type":"band","domain":["fast","slow"],"paddingInner":0,"paddingOuter":0.0603},"axis":null},
  "xOffset":{"datum":-16,"type":"quantitative","scale":{"domain":[-280.4,328.3],"nice":false,"zero":false}},
  "y":{"datum":"-83.5","type":"nominal","scale":{"type":"band","domain":["-83.5","-66.8","-50.1","-33.4","-16.7","0.0","+16.7","+33.4","+50.1","+66.8","+83.5"],"paddingInner":0,"paddingOuter":0.8325,"align":0.8179},"axis":null},
  "yOffset":{"datum":153,"type":"quantitative","scale":{"domain":[-9.7,110],"reverse":true,"nice":false,"zero":false}}}},
{"data":{"values":[{}]},
 "mark":{"type":"text","text":"slow","font":"Liberation Sans","fontSize":52,"align":"center","baseline":"alphabetic","color":"black"},
 "encoding":{
  "x":{"datum":"slow","type":"nominal","scale":{"type":"band","domain":["fast","slow"],"paddingInner":0,"paddingOuter":0.0603},"axis":null},
  "xOffset":{"datum":18,"type":"quantitative","scale":{"domain":[-280.4,328.3],"nice":false,"zero":false}},
  "y":{"datum":"-83.5","type":"nominal","scale":{"type":"band","domain":["-83.5","-66.8","-50.1","-33.4","-16.7","0.0","+16.7","+33.4","+50.1","+66.8","+83.5"],"paddingInner":0,"paddingOuter":0.8325,"align":0.8179},"axis":null},
  "yOffset":{"datum":153,"type":"quantitative","scale":{"domain":[-9.7,110],"reverse":true,"nice":false,"zero":false}}}}
]
}
]
}
